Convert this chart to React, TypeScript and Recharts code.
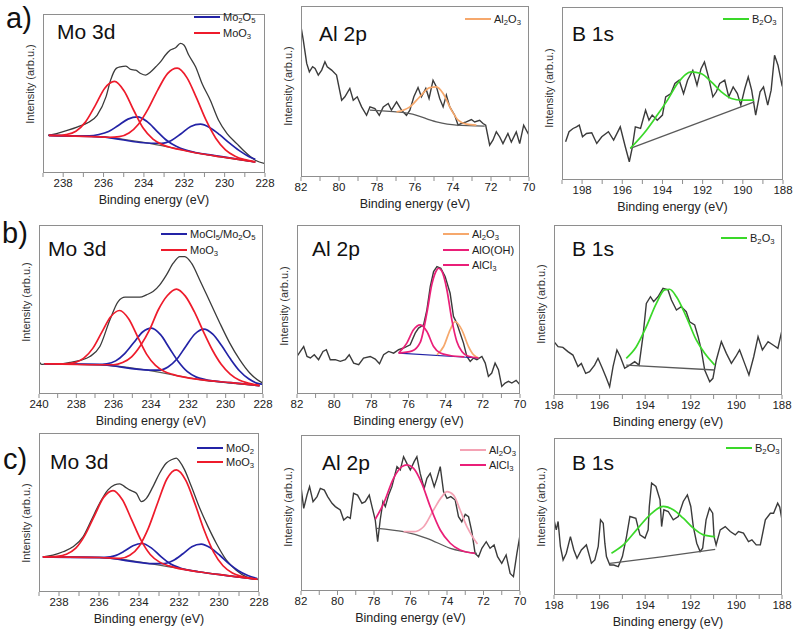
import React from 'react'
import { LineChart, Line, XAxis, YAxis } from 'recharts'

type Pt = [number, number]

// ---------- row a ----------
const moA_raw: Pt[] = [[238.75,23.7],[238.33,24.8],[237.76,26.9],[237.28,29.0],[236.8,31.5],[236.32,36.3],[235.88,47.9],[235.65,58.4],[235.37,65.8],[235.17,66.8],[234.89,67.2],[234.65,65.1],[234.41,64.7],[234.16,62.6],[233.91,61.6],[233.66,63.7],[233.41,66.8],[233.17,70.0],[232.93,74.2],[232.69,77.3],[232.43,78.8],[232.19,81.5],[232.02,80.5],[231.78,74.2],[231.44,66.8],[231.12,56.3],[230.71,45.8],[230.3,33.2],[229.88,24.8],[229.4,18.5],[228.9,12.2],[228.48,8.0],[228.0,5.9]]
const moA_bg: Pt[] = [[238.75,23.7],[236.13,22.7],[233.66,18.5],[231.2,12.2],[228.48,6.9]]
const moA_red1: Pt[] = [[238.71,23.7],[238.33,23.6],[237.85,24.2],[237.37,26.3],[236.9,32.0],[236.42,42.2],[235.94,53.3],[235.46,57.6],[234.98,51.6],[234.5,39.3],[234.03,28.1],[233.55,21.3],[233.07,17.7],[232.59,15.8],[232.11,14.5],[231.16,12.1],[230.2,10.2],[229.24,8.4],[228.48,6.9]]
const moA_red2: Pt[] = [[238.71,23.7],[236.13,22.7],[235.7,22.5],[235.22,22.9],[234.74,25.2],[234.27,30.7],[233.79,40.3],[233.31,52.3],[232.83,62.5],[232.35,65.9],[231.87,60.0],[231.4,47.4],[230.92,33.2],[230.44,21.9],[229.96,14.6],[229.48,10.6],[229.0,8.4],[228.48,7.0]]
const moA_blue1: Pt[] = [[238.71,23.7],[237.18,23.2],[236.7,23.3],[236.23,24.2],[235.75,26.1],[235.27,29.9],[234.79,33.9],[234.31,35.3],[233.84,32.3],[233.36,26.4],[232.88,20.6],[232.4,16.8],[231.92,14.4],[231.44,12.9],[230.49,11.0],[229.53,9.1],[228.48,6.9]]
const moA_blue2: Pt[] = [[238.71,23.7],[236.13,22.7],[233.6,18.7],[233.12,18.7],[232.64,20.5],[232.16,24.7],[231.68,29.3],[231.2,30.7],[230.73,28.5],[230.25,24.1],[229.77,18.9],[229.29,14.2],[228.81,10.4],[228.48,8.6]]

const alA_raw: Pt[] = [[82.0,87.9],[81.88,80.1],[81.7,66.4],[81.56,61.5],[81.39,64.5],[81.26,63.5],[81.09,59.6],[80.91,62.5],[80.74,67.4],[80.62,64.5],[80.39,62.5],[80.13,59.6],[79.86,44.9],[79.69,46.9],[79.43,51.8],[79.25,44.9],[79.04,46.9],[78.81,41.0],[78.55,36.1],[78.37,41.0],[78.11,40.0],[77.88,36.1],[77.67,41.0],[77.41,43.0],[77.24,39.1],[76.97,43.9],[76.71,39.1],[76.45,36.1],[76.27,39.1],[76.06,46.9],[75.84,52.3],[75.66,46.9],[75.43,51.8],[75.26,45.9],[75.05,56.6],[74.87,52.7],[74.7,45.9],[74.52,41.0],[74.35,47.9],[74.17,41.0],[73.91,36.1],[73.73,30.3],[73.56,31.3],[73.3,32.2],[73.03,33.6],[72.86,32.2],[72.6,33.2],[72.42,31.3],[72.28,30.3],[72.07,18.6],[71.9,21.5],[71.72,26.4],[71.54,23.4],[71.37,19.5],[71.11,25.4],[70.93,20.5],[70.67,26.4],[70.49,19.5],[70.28,30.3],[70.0,24.4]]
const alA_bg: Pt[] = [[78.37,39.1],[76.27,37.1],[74.87,32.2],[73.82,30.3],[72.33,29.7]]
const alA_al2o3: Pt[] = [[76.97,38.1],[76.27,41.0],[75.75,46.9],[75.22,52.3],[74.87,52.7],[74.52,48.8],[74.08,39.1],[73.73,33.2],[73.3,30.9],[72.77,30.3]]

const bA_raw: Pt[] = [[198.82,17.3],[198.65,23.5],[198.45,25.5],[198.28,26.5],[198.14,27.6],[197.98,20.4],[197.78,22.4],[197.52,22.9],[197.27,16.3],[197.02,20.4],[196.69,23.5],[196.43,18.4],[196.1,26.5],[195.85,14.3],[195.65,5.1],[195.51,13.3],[195.35,26.5],[195.09,25.5],[194.84,36.7],[194.67,30.6],[194.51,33.7],[194.26,30.6],[194.0,33.7],[193.84,44.9],[193.58,46.9],[193.38,53.1],[193.17,55.1],[192.95,46.9],[192.75,55.1],[192.49,61.2],[192.28,52.0],[192.08,62.2],[191.91,66.3],[191.71,57.1],[191.49,44.9],[191.32,48.0],[191.15,53.1],[190.9,55.1],[190.7,44.9],[190.48,51.0],[190.27,46.9],[190.1,39.8],[189.9,50.0],[189.73,57.1],[189.56,49.0],[189.36,33.7],[189.14,48.0],[188.97,51.0],[188.76,39.8],[188.59,49.0],[188.42,70.4],[188.25,64.3],[188.05,52.0],[188.0,50.5]]
const bA_bg: Pt[] = [[195.6,13.3],[189.43,41.8]]
const bA_b2o3: Pt[] = [[195.6,13.3],[194.93,22.4],[194.26,33.7],[193.75,42.9],[193.25,53.1],[192.58,60.2],[192.08,59.2],[191.57,54.1],[191.07,48.0],[190.57,43.9],[190.06,42.9],[189.43,42.9]]

// ---------- row b ----------
const moB_raw: Pt[] = [[240.0,19.3],[239.86,17.5],[239.59,17.9],[238.88,17.9],[238.34,18.7],[237.79,19.9],[237.27,22.2],[236.74,28.1],[236.2,43.9],[235.76,54.7],[235.39,57.3],[234.95,57.3],[234.6,57.3],[234.24,58.7],[233.89,60.6],[233.53,64.6],[233.17,70.5],[232.81,77.4],[232.45,81.3],[232.19,81.3],[231.83,77.4],[231.39,67.5],[230.85,54.7],[230.31,41.9],[229.78,30.1],[229.25,20.3],[228.71,12.4],[228.17,7.5],[228.0,6.5]]
const moB_bg: Pt[] = [[239.68,17.9],[236.74,17.3],[234.06,13.8],[231.39,8.5],[228.17,4.9]]
const moB_red1: Pt[] = [[239.71,17.9],[238.56,17.9],[238.08,18.6],[237.6,21.2],[237.12,27.0],[236.64,36.5],[236.16,45.7],[235.68,49.4],[235.2,44.5],[234.72,34.0],[234.24,23.6],[233.76,16.9],[233.28,13.3],[232.8,11.5],[231.36,8.5],[229.73,6.7],[228.19,5.0]]
const moB_red2: Pt[] = [[239.71,17.9],[236.74,17.3],[236.0,17.3],[235.52,18.6],[235.04,22.0],[234.56,28.7],[234.08,37.9],[233.6,50.0],[233.12,58.3],[232.64,62.1],[232.16,57.9],[231.68,48.7],[231.2,37.1],[230.72,26.2],[230.24,17.6],[229.76,11.8],[229.28,8.3],[228.8,6.5],[228.19,5.0]]
const moB_blue1: Pt[] = [[239.71,17.9],[236.85,17.6],[236.37,17.9],[235.89,19.6],[235.41,23.9],[234.93,30.3],[234.45,36.7],[233.97,39.0],[233.49,35.1],[233.01,27.1],[232.53,19.1],[232.05,13.2],[231.57,10.0],[231.09,8.5],[229.73,6.7],[228.19,5.0]]
const moB_blue2: Pt[] = [[239.71,17.9],[236.74,17.3],[234.05,14.1],[233.57,14.1],[233.09,16.0],[232.61,20.7],[232.13,28.3],[231.65,35.5],[231.17,38.4],[230.69,35.4],[230.21,28.5],[229.73,20.5],[229.25,13.6],[228.77,9.0],[228.29,6.3],[228.05,5.8]]

const alB_raw: Pt[] = [[82.0,22.2],[81.82,25.2],[81.64,28.1],[81.46,22.2],[81.28,21.3],[81.07,23.2],[80.84,20.3],[80.6,25.2],[80.42,26.2],[80.21,20.3],[79.94,20.3],[79.67,19.3],[79.4,20.3],[79.19,23.2],[78.95,18.3],[78.68,17.3],[78.42,21.3],[78.06,22.2],[77.79,20.7],[77.56,17.9],[77.34,23.2],[77.07,25.2],[76.8,24.2],[76.53,26.2],[76.27,27.2],[75.91,29.1],[75.64,36.0],[75.46,39.0],[75.19,40.9],[75.01,49.8],[74.83,63.6],[74.65,72.4],[74.47,75.4],[74.26,74.4],[74.03,69.5],[73.76,59.6],[73.58,45.9],[73.4,41.9],[73.22,36.0],[73.04,30.1],[72.86,22.2],[72.68,19.3],[72.5,21.3],[72.32,20.3],[72.05,22.2],[71.87,18.3],[71.7,10.4],[71.52,12.4],[71.34,18.3],[71.16,14.4],[70.98,4.5],[70.8,6.5],[70.62,7.5],[70.44,6.5],[70.21,8.1],[70.0,5.5]]
const alB_bg: Pt[] = [[76.53,24.2],[72.23,21.3]]
const alB_al2o3: Pt[] = [[74.47,23.2],[74.11,28.1],[73.76,38.0],[73.49,42.9],[73.13,38.0],[72.77,28.1],[72.5,23.2],[72.23,21.3]]
const alB_aloh: Pt[] = [[76.53,24.2],[75.8,25.5],[75.37,30.5],[75.01,48.0],[74.74,65.0],[74.47,73.5],[74.38,74.4],[74.2,72.5],[73.94,62.0],[73.67,44.0],[73.4,31.0],[73.13,25.2],[72.77,22.3],[72.23,21.3]]
const alB_alcl3: Pt[] = [[76.53,24.2],[76.09,30.1],[75.73,38.0],[75.37,40.9],[75.01,37.0],[74.65,28.1],[74.29,24.2],[73.76,22.8],[73.0,22.0]]

const bB_raw: Pt[] = [[198.0,31.4],[197.82,28.4],[197.61,28.0],[197.39,25.5],[197.17,23.5],[196.95,16.7],[196.8,18.6],[196.61,12.7],[196.44,13.7],[196.22,17.6],[196.07,21.6],[195.88,15.7],[195.7,9.8],[195.56,4.9],[195.41,16.7],[195.24,26.5],[195.09,22.5],[194.9,15.7],[194.68,17.6],[194.46,19.6],[194.27,17.6],[194.1,34.3],[193.95,53.9],[193.77,57.8],[193.63,54.9],[193.44,57.8],[193.22,62.7],[193.0,61.8],[192.85,55.9],[192.63,50.0],[192.42,52.0],[192.2,49.0],[192.05,43.1],[191.83,41.2],[191.68,34.3],[191.54,26.5],[191.39,14.7],[191.17,7.8],[191.03,9.8],[190.88,20.6],[190.66,31.4],[190.44,24.5],[190.22,18.6],[190.03,22.5],[189.86,26.5],[189.64,18.6],[189.45,11.8],[189.24,22.5],[189.05,34.3],[188.86,26.5],[188.61,31.4],[188.39,29.4],[188.18,27.5],[188.0,38.2]]
const bB_bg: Pt[] = [[194.83,17.6],[190.95,14.7]]
const bB_b2o3: Pt[] = [[194.83,21.6],[194.39,28.4],[193.95,40.2],[193.51,53.9],[193.15,61.8],[192.93,62.2],[192.63,57.8],[192.2,46.1],[191.76,32.4],[191.39,24.5],[190.95,17.6]]

// ---------- row c ----------
const moC_raw: Pt[] = [[238.8,22.1],[238.3,23.2],[237.8,25.3],[237.3,28.4],[236.8,34.7],[236.38,45.3],[235.97,55.8],[235.55,64.2],[235.22,67.4],[234.96,68.0],[234.72,66.3],[234.47,64.2],[234.13,62.1],[233.88,56.8],[233.63,58.9],[233.3,66.3],[232.97,74.7],[232.63,81.1],[232.38,83.2],[232.13,84.2],[231.97,82.1],[231.72,76.8],[231.38,66.3],[230.96,52.6],[230.55,41.1],[230.13,30.5],[229.63,20.0],[229.14,13.7],[228.63,9.5],[228.0,7.8]]
const moC_bg: Pt[] = [[238.8,22.1],[235.97,21.7],[233.46,17.9],[230.96,12.6],[228.0,7.8]]
const moC_red1: Pt[] = [[238.81,22.1],[238.1,22.5],[237.63,23.8],[237.16,27.6],[236.7,35.8],[236.23,47.9],[235.77,59.4],[235.3,63.8],[234.83,58.0],[234.37,45.5],[233.9,32.6],[233.44,23.6],[232.97,18.8],[232.5,16.4],[230.96,12.6],[229.49,10.2],[228.09,8.0]]
const moC_red2: Pt[] = [[238.81,22.1],[235.97,21.7],[234.93,21.2],[234.46,23.1],[233.99,28.8],[233.53,40.2],[233.06,56.3],[232.6,71.2],[232.13,76.8],[231.66,70.2],[231.2,55.4],[230.73,38.5],[230.27,25.1],[229.8,16.5],[229.33,12.0],[228.87,9.8],[228.09,8.0]]
const moC_blue1: Pt[] = [[238.81,22.1],[235.97,21.7],[235.7,21.8],[235.23,22.7],[234.77,25.4],[234.3,29.1],[233.84,30.5],[233.37,27.6],[232.9,22.2],[232.44,17.8],[231.97,15.2],[230.96,12.6],[229.49,10.2],[228.09,8.0]]
const moC_blue2: Pt[] = [[238.81,22.1],[235.97,21.7],[233.22,17.8],[232.75,17.9],[232.29,19.8],[231.82,23.9],[231.36,28.5],[230.89,30.1],[230.42,27.7],[229.96,23.1],[229.49,17.7],[229.03,13.4],[228.56,10.4],[228.09,8.5]]

const alC_raw: Pt[] = [[82.0,66.9],[81.85,53.0],[81.67,61.5],[81.53,66.9],[81.34,57.3],[81.12,60.5],[80.94,65.8],[80.72,64.7],[80.54,60.5],[80.3,56.2],[80.12,54.1],[79.85,51.9],[79.66,45.5],[79.45,47.6],[79.3,46.6],[79.12,62.6],[78.9,61.5],[78.66,56.2],[78.48,57.3],[78.26,61.5],[78.11,54.1],[77.93,45.5],[77.8,31.6],[77.66,45.5],[77.51,57.3],[77.38,54.1],[77.2,61.5],[77.02,66.9],[76.74,79.7],[76.56,77.6],[76.38,86.1],[76.2,81.8],[76.01,77.6],[75.8,82.9],[75.65,86.1],[75.47,75.4],[75.25,65.8],[75.1,72.2],[74.92,75.4],[74.7,66.9],[74.55,72.2],[74.37,79.7],[74.19,63.7],[74.0,59.4],[73.79,60.5],[73.55,58.3],[73.37,47.6],[73.19,44.4],[73.0,49.1],[72.82,47.6],[72.64,38.0],[72.46,24.1],[72.27,22.0],[72.09,27.4],[71.85,31.6],[71.64,27.4],[71.42,29.5],[71.23,22.0],[71.0,17.7],[70.76,23.1],[70.54,11.3],[70.36,9.2],[70.17,24.1],[70.0,35.9]]
const alC_bg: Pt[] = [[77.84,40.2],[76.38,38.0],[75.1,33.8],[73.82,27.4],[72.36,24.1]]
const alC_al2o3: Pt[] = [[76.38,38.0],[75.83,38.0],[75.28,41.2],[74.74,51.9],[74.28,60.5],[74.0,63.7],[73.64,61.5],[73.28,51.9],[72.91,41.2],[72.55,33.8],[72.33,30.1]]
const alC_alcl3: Pt[] = [[77.93,46.0],[77.47,56.2],[76.93,72.2],[76.47,79.7],[76.2,80.8],[75.83,78.6],[75.38,69.0],[74.92,54.1],[74.37,39.1],[73.82,30.6],[73.28,26.3],[72.46,24.1]]

const bC_raw: Pt[] = [[198.0,47.9],[197.9,41.5],[197.82,46.8],[197.72,30.9],[197.6,22.3],[197.46,26.6],[197.28,37.2],[197.13,28.7],[196.99,23.4],[196.8,28.7],[196.58,31.9],[196.36,20.2],[196.21,22.3],[196.06,30.9],[195.96,47.9],[195.84,45.7],[195.77,33.0],[195.7,24.5],[195.55,19.1],[195.38,19.1],[195.18,18.1],[195.0,24.5],[194.82,37.2],[194.67,50.0],[194.41,48.9],[194.23,38.3],[194.01,36.2],[193.87,41.5],[193.82,56.4],[193.72,71.3],[193.53,69.1],[193.35,60.6],[193.28,43.6],[193.18,54.3],[192.99,53.2],[192.77,47.9],[192.55,50.0],[192.33,59.6],[192.15,63.8],[192.0,56.4],[191.89,43.6],[191.74,33.0],[191.59,27.7],[191.48,29.8],[191.33,47.9],[191.18,55.3],[191.04,52.1],[190.98,37.2],[190.89,31.9],[190.71,41.5],[190.49,43.6],[190.27,40.4],[190.05,38.3],[189.91,40.4],[189.69,39.4],[189.47,34.0],[189.32,35.1],[189.13,31.9],[188.95,31.9],[188.73,47.9],[188.51,52.1],[188.37,52.1],[188.19,58.5],[188.1,56.0],[188.0,47.9]]
const bC_bg: Pt[] = [[195.55,20.2],[193.21,24.5],[190.93,29.1]]
const bC_b2o3: Pt[] = [[195.48,26.6],[194.96,31.9],[194.38,41.5],[193.79,51.1],[193.21,56.4],[192.77,54.3],[192.33,48.9],[191.89,42.6],[191.45,38.3],[190.93,37.2]]

const RAW = '#3b3b3b'
const BG = '#5a5a5a'
const BLUE = '#2323a6'
const RED = '#ee1b2b'
const ORANGE = '#f6a86c'
const MAGENTA = '#ea1f78'
const PINK = '#f4a2b4'
const GREEN = '#3ad829'
const FRAME = '#8e8e8e'
const FONT = '"Liberation Sans", Arial, sans-serif'

interface Series { pts: Pt[]; color: string; w?: number; linear?: boolean }
interface LegendItem { name: string; color: string }
interface PanelCfg {
  x: number; y: number; w: number; h: number
  domain: [number, number]
  yDomain?: [number, number]
  title: string; tx: number; ty: number
  ylCy: number
  series: Series[]
  legend: LegendItem[]; lx: number; ly: number; gap: number
}

const MT = 6
const MS = 16 // side margin, room for edge tick labels
const AXH = 24

function Chem({ s }: { s: string }) {
  return <>{s.split(/(\d)/).map((p, i) => /\d/.test(p) ? <sub key={i} style={{ fontSize: '0.7em', verticalAlign: '-0.25em' }}>{p}</sub> : p)}</>
}

function Panel({ c }: { c: PanelCfg }) {
  const ticks: number[] = []
  for (let t = Math.ceil(c.domain[0]); t <= Math.floor(c.domain[1]); t++) ticks.push(t)
  return (
    <>
      <div style={{ position: 'absolute', left: c.x - MS, top: c.y - MT }}>
        <LineChart width={c.w + 2 * MS} height={c.h + MT + AXH} margin={{ top: MT, right: MS, bottom: 0, left: MS }}>
          <XAxis type="number" dataKey="x" domain={c.domain} reversed allowDataOverflow
            ticks={ticks} interval={0} tickFormatter={(v: number) => (v % 2 === 0 ? String(v) : '')}
            height={AXH} tickSize={4} stroke={FRAME} axisLine={false}
            tick={{ fill: '#222', fontSize: 11.5, fontFamily: FONT }} />
          <YAxis domain={c.yDomain ?? [0, 100]} allowDataOverflow hide />
          {c.series.map((s, i) => (
            <Line key={i} data={s.pts.map(([x, y]) => ({ x, y }))} dataKey="y"
              type={s.linear ? 'linear' : 'monotone'} stroke={s.color} strokeWidth={s.w ?? 1.7}
              dot={false} activeDot={false} isAnimationActive={false} />
          ))}
        </LineChart>
      </div>
      <div style={{ position: 'absolute', left: c.x, top: c.y, width: c.w, height: c.h, border: `1.5px solid ${FRAME}`, boxSizing: 'border-box', pointerEvents: 'none' }} />
      <div style={{ position: 'absolute', left: c.tx, top: c.ty - 10.5, fontSize: 21, lineHeight: 1, color: '#111', fontFamily: FONT }}>{c.title}</div>
      <div style={{ position: 'absolute', left: c.x - 13, top: c.ylCy, transform: 'translate(-50%, -50%) rotate(-90deg)', whiteSpace: 'nowrap', fontSize: 11, color: '#333', fontFamily: FONT }}>Intensity (arb.u.)</div>
      <div style={{ position: 'absolute', left: c.x + c.w / 2, top: c.y + c.h + 27, transform: 'translate(-50%, -50%)', whiteSpace: 'nowrap', fontSize: 12.5, color: '#222', fontFamily: FONT }}>Binding energy (eV)</div>
      {c.legend.map((it, i) => (
        <React.Fragment key={i}>
          <div style={{ position: 'absolute', left: c.lx, top: c.ly + i * c.gap - 1, width: 26, height: 2, background: it.color }} />
          <div style={{ position: 'absolute', left: c.lx + 29, top: c.ly + i * c.gap - 7, fontSize: 11, lineHeight: '14px', color: '#222', fontFamily: FONT, whiteSpace: 'nowrap' }}><Chem s={it.name} /></div>
        </React.Fragment>
      ))}
    </>
  )
}

const panels: PanelCfg[] = [
  { x: 43, y: 14, w: 222, h: 159, domain: [228, 239], title: 'Mo 3d', tx: 57, ty: 31, ylCy: 84,
    series: [{ pts: moA_raw, color: RAW, w: 1.3 }, { pts: moA_bg, color: BG, w: 1.3 }, { pts: moA_blue1, color: BLUE }, { pts: moA_blue2, color: BLUE }, { pts: moA_red1, color: RED }, { pts: moA_red2, color: RED }],
    legend: [{ name: 'Mo2O5', color: BLUE }, { name: 'MoO3', color: RED }], lx: 194, ly: 17, gap: 16 },
  { x: 301, y: 6, w: 228, h: 171, domain: [70, 82], title: 'Al 2p', tx: 319, ty: 33, ylCy: 86,
    series: [{ pts: alA_raw, color: RAW, w: 1.4, linear: true }, { pts: alA_bg, color: BG, w: 1.3 }, { pts: alA_al2o3, color: ORANGE }],
    legend: [{ name: 'Al2O3', color: ORANGE }], lx: 465, ly: 19, gap: 16 },
  { x: 562, y: 7, w: 221, h: 173, domain: [188, 199], yDomain: [-6.1, 100], title: 'B 1s', tx: 572, ty: 33, ylCy: 88,
    series: [{ pts: bA_raw, color: RAW, w: 1.4, linear: true }, { pts: bA_bg, color: BG, w: 1.3, linear: true }, { pts: bA_b2o3, color: GREEN }],
    legend: [{ name: 'B2O3', color: GREEN }], lx: 723, ly: 19, gap: 16 },

  { x: 39, y: 225, w: 224, h: 169, domain: [228, 240], title: 'Mo 3d', tx: 48, ty: 248, ylCy: 302,
    series: [{ pts: moB_raw, color: RAW, w: 1.3 }, { pts: moB_bg, color: BG, w: 1.3 }, { pts: moB_blue1, color: BLUE }, { pts: moB_blue2, color: BLUE }, { pts: moB_red1, color: RED }, { pts: moB_red2, color: RED }],
    legend: [{ name: 'MoCl5/Mo2O5', color: BLUE }, { name: 'MoO3', color: RED }], lx: 161, ly: 234, gap: 16 },
  { x: 297, y: 225, w: 223, h: 169, domain: [70, 82], title: 'Al 2p', tx: 312, ty: 248, ylCy: 306,
    series: [{ pts: alB_raw, color: RAW, w: 1.4, linear: true }, { pts: alB_bg, color: BLUE, w: 1.2, linear: true }, { pts: alB_al2o3, color: ORANGE }, { pts: alB_alcl3, color: MAGENTA }, { pts: alB_aloh, color: MAGENTA }],
    legend: [{ name: 'Al2O3', color: ORANGE }, { name: 'AlO(OH)', color: MAGENTA }, { name: 'AlCl3', color: MAGENTA }], lx: 443, ly: 234, gap: 15.5 },
  { x: 554, y: 225, w: 228, h: 170, domain: [188, 198], title: 'B 1s', tx: 572, ty: 248, ylCy: 304,
    series: [{ pts: bB_raw, color: RAW, w: 1.4, linear: true }, { pts: bB_bg, color: BG, w: 1.3, linear: true }, { pts: bB_b2o3, color: GREEN }],
    legend: [{ name: 'B2O3', color: GREEN }], lx: 721, ly: 238, gap: 16 },

  { x: 39, y: 433, w: 220, h: 159, domain: [228, 239], title: 'Mo 3d', tx: 50, ty: 461, ylCy: 523,
    series: [{ pts: moC_raw, color: RAW, w: 1.3 }, { pts: moC_bg, color: BG, w: 1.3 }, { pts: moC_blue1, color: BLUE }, { pts: moC_blue2, color: BLUE }, { pts: moC_red1, color: RED }, { pts: moC_red2, color: RED }],
    legend: [{ name: 'MoO2', color: BLUE }, { name: 'MoO3', color: RED }], lx: 197, ly: 448, gap: 14 },
  { x: 301, y: 435, w: 219, h: 156, domain: [70, 82], title: 'Al 2p', tx: 322, ty: 462, ylCy: 507,
    series: [{ pts: alC_raw, color: RAW, w: 1.4, linear: true }, { pts: alC_bg, color: BG, w: 1.3 }, { pts: alC_al2o3, color: PINK }, { pts: alC_alcl3, color: MAGENTA }],
    legend: [{ name: 'Al2O3', color: PINK }, { name: 'AlCl3', color: MAGENTA }], lx: 460, ly: 450, gap: 15 },
  { x: 554, y: 438, w: 228, h: 157, domain: [188, 198], title: 'B 1s', tx: 572, ty: 462, ylCy: 507,
    series: [{ pts: bC_raw, color: RAW, w: 1.4, linear: true }, { pts: bC_bg, color: BG, w: 1.3, linear: true }, { pts: bC_b2o3, color: GREEN }],
    legend: [{ name: 'B2O3', color: GREEN }], lx: 726, ly: 448, gap: 16 },
]

const rowLabels = [
  { t: 'a)', x: 6, y: 4 },
  { t: 'b)', x: 2, y: 219 },
  { t: 'c)', x: 3, y: 445 },
]

export default function App() {
  return (
    <div style={{ position: 'absolute', left: 0, top: 0, width: 798, height: 629, background: '#fff', overflow: 'hidden', fontFamily: FONT }}>
      {panels.map((p, i) => <Panel key={i} c={p} />)}
      {rowLabels.map(r => (
        <div key={r.t} style={{ position: 'absolute', left: r.x, top: r.y, fontSize: 29, lineHeight: 1, color: '#111', fontFamily: FONT }}>{r.t}</div>
      ))}
    </div>
  )
}
